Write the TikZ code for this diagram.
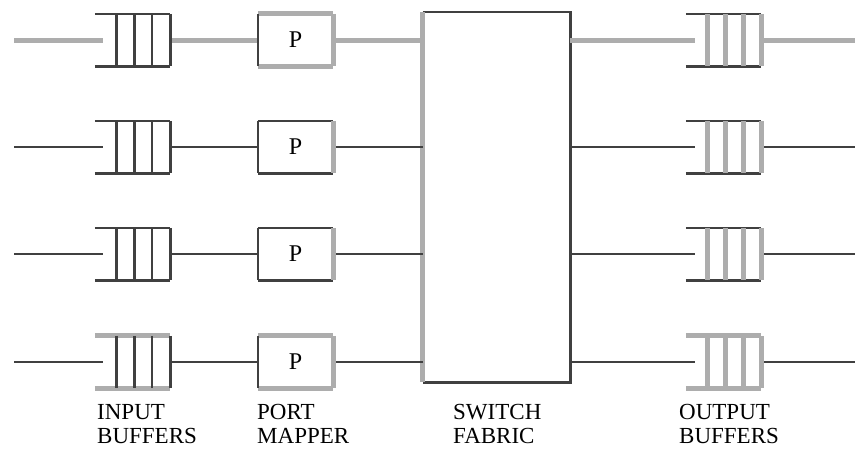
\documentclass[tikz,border=0pt]{standalone}
\usepackage{fontspec}
\setmainfont{Liberation Serif}
\usepackage{tikz}
\usetikzlibrary{
  calc,
  positioning
}
\definecolor{wiredark}{RGB}{64,64,64}
\definecolor{wirepale}{RGB}{173,173,173}

% queue symbol: node, rail colour, bar colour, end colour
\newcommand{\drawqueue}[4]{%
  \draw[#2] (#1.north west) -- (#1.north east) (#1.south west) -- (#1.south east);
  \foreach \f in {0.29,0.53,0.76}
    \draw[#3] ($(#1.north west)!\f!(#1.north east)$) -- ($(#1.south west)!\f!(#1.south east)$);
  \draw[#4] (#1.north east) -- (#1.south east);
}

\begin{document}
\begin{tikzpicture}[
  x=1pt, y=-1pt,
  darkwire/.style={draw=wiredark, line width=2.6pt},
  palewire/.style={draw=wirepale, line width=5pt},
  slot/.style={rectangle, inner sep=0pt, minimum width=75pt, minimum height=52pt, font=\fontsize{24}{24}\selectfont},
  caption/.style={anchor=north west, inner sep=0pt, align=left, font=\fontsize{23}{24}\selectfont}
]
  \useasboundingbox (0,0) rectangle (855,453);

  \node[rectangle, inner sep=0pt, minimum width=147pt, minimum height=370pt] (fabric) at (496.5,197) {};
  \draw[darkwire] (fabric.north west) -- (fabric.north east) -- (fabric.south east) -- (fabric.south west);
  \draw[palewire] (fabric.south west) -- (fabric.north west);

  \foreach \i/\y/\w/\qs/\ps in {1/40/palewire/darkwire/palewire,
                                 2/147/darkwire/darkwire/darkwire,
                                 3/254/darkwire/darkwire/darkwire,
                                 4/362/darkwire/palewire/palewire} {
    \coordinate (in\i) at (14,\y);
    \coordinate (out\i) at (855,\y);
    \node[slot] (inbuf\i) at (132.5,\y) {};
    \node[slot] (map\i) at (295.5,\y) {P};
    \node[slot] (outbuf\i) at (723.5,\y) {};

    % wires
    \draw[\w] (in\i) -- ($(inbuf\i.west)+(8,0)$);
    \draw[\w] (inbuf\i.east) -- (map\i.west);
    \draw[\w] (map\i.east) -- (fabric.west |- map\i);
    \draw[\w] (fabric.east |- outbuf\i) -- ($(outbuf\i.west)+(9,0)$);
    \draw[\w] (outbuf\i.east) -- (out\i);

    % port mapper box
    \draw[\ps] (map\i.north west) -- (map\i.north east) (map\i.south west) -- (map\i.south east);
    \draw[darkwire] (map\i.north west) -- (map\i.south west);
    \draw[palewire] (map\i.north east) -- (map\i.south east);

    % buffers
    \drawqueue{inbuf\i}{\qs}{darkwire}{darkwire}
    \drawqueue{outbuf\i}{\qs}{palewire}{palewire}
  }

  \node[caption] (lblin) at (97,404) {INPUT\\BUFFERS};
  \node[caption] (lblmap) at (257,404) {PORT\\MAPPER};
  \node[caption] (lblfab) at (453,404) {SWITCH\\FABRIC};
  \node[caption] (lblout) at (679,404) {OUTPUT\\BUFFERS};
\end{tikzpicture}
\end{document}
